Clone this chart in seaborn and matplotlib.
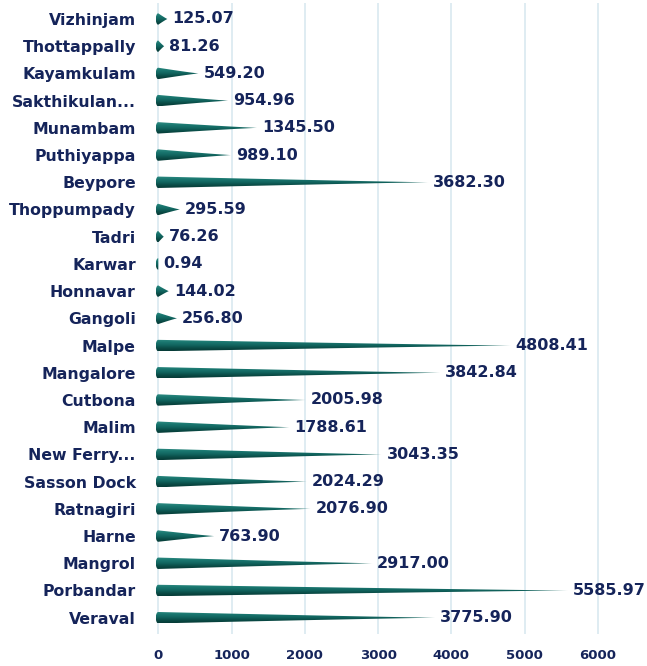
import numpy as np
import pandas as pd
import matplotlib
matplotlib.use("Agg")
import matplotlib.pyplot as plt
import seaborn as sns
from matplotlib.patches import Polygon
from matplotlib.colors import LinearSegmentedColormap

ports = ["Vizhinjam", "Thottappally", "Kayamkulam", "Sakthikulan...", "Munambam",
         "Puthiyappa", "Beypore", "Thoppumpady", "Tadri", "Karwar", "Honnavar",
         "Gangoli", "Malpe", "Mangalore", "Cutbona", "Malim", "New Ferry...",
         "Sasson Dock", "Ratnagiri", "Harne", "Mangrol", "Porbandar", "Veraval"]
values = [125.07, 81.26, 549.20, 954.96, 1345.50, 989.10, 3682.30, 295.59, 76.26,
          0.94, 144.02, 256.80, 4808.41, 3842.84, 2005.98, 1788.61, 3043.35,
          2024.29, 2076.90, 763.90, 2917.00, 5585.97, 3775.90]
ticks = [0, 1000, 2000, 3000, 4000, 5000, 6000]

df = pd.DataFrame({"port": ports, "value": values})

sns.set_style("white")
plt.rcParams['font.family'] = ['DejaVu Sans']

fig = plt.figure(figsize=(6.47, 6.66), dpi=100)
ax = fig.add_axes([0.24, 0.048, 0.75, 0.948])

navy = "#15245a"
teal = "#17706a"
cmap = LinearSegmentedColormap.from_list(
    "cone", ["#2f8d84", "#1a7770", "#126660", "#0a4c47", "#063a36"])

sns.barplot(data=df, x="value", y="port", orient="h", color=teal, width=0.42, ax=ax)

xmax = 6580
grad = np.linspace(0, 1, 64).reshape(-1, 1)
for p in list(ax.patches):
    x0, y0 = p.get_x(), p.get_y()
    w, h = p.get_width(), p.get_height()
    p.set_visible(False)
    yc = y0 + h / 2
    n = 80
    t = np.linspace(0, 1, n)
    half = (h / 2) * (1 - t) ** 1.1
    xs = x0 + w * t
    capw = xmax * 0.005
    ang = np.linspace(np.pi / 2, 3 * np.pi / 2, 24)
    cap = np.column_stack([x0 + capw * np.cos(ang), yc - (h / 2) * np.sin(ang)])
    top = np.column_stack([xs, yc - half])
    bot = np.column_stack([xs[::-1], (yc + half)[::-1]])
    pts = np.vstack([top, bot, cap[::-1]])
    poly = Polygon(pts, closed=True, facecolor="none", edgecolor="none", zorder=3)
    ax.add_patch(poly)
    im = ax.imshow(grad, cmap=cmap, aspect="auto", origin="upper",
                   extent=[x0 - capw, x0 + max(w, 1), yc + h / 2, yc - h / 2],
                   zorder=3, interpolation="bilinear")
    im.set_clip_path(poly)

ax.set_xlim(-40, xmax)
ax.set_ylim(len(ports) - 0.4, -0.6)

for i, v in enumerate(values):
    ax.text(v + 70, i, f"{v:.2f}", va="center", ha="left", fontsize=11.5,
            fontweight="bold", color=navy, zorder=4)

ax.set_xticks(ticks)
ax.set_xticklabels([str(t) for t in ticks], fontsize=9.5, fontweight="bold", color=navy)
ax.tick_params(axis="x", length=0, pad=11)
ax.tick_params(axis="y", length=0, pad=14)
for lab in ax.get_yticklabels():
    lab.set_fontsize(11.3)
    lab.set_fontweight("bold")
    lab.set_color(navy)

ax.set_xlabel("")
ax.set_ylabel("")
ax.grid(axis="x", color="#d6e7ef", linewidth=1.1, zorder=0)
ax.grid(axis="y", visible=False)
ax.set_axisbelow(True)
for s in ax.spines.values():
    s.set_visible(False)

fig.savefig("out.png", dpi=100)
